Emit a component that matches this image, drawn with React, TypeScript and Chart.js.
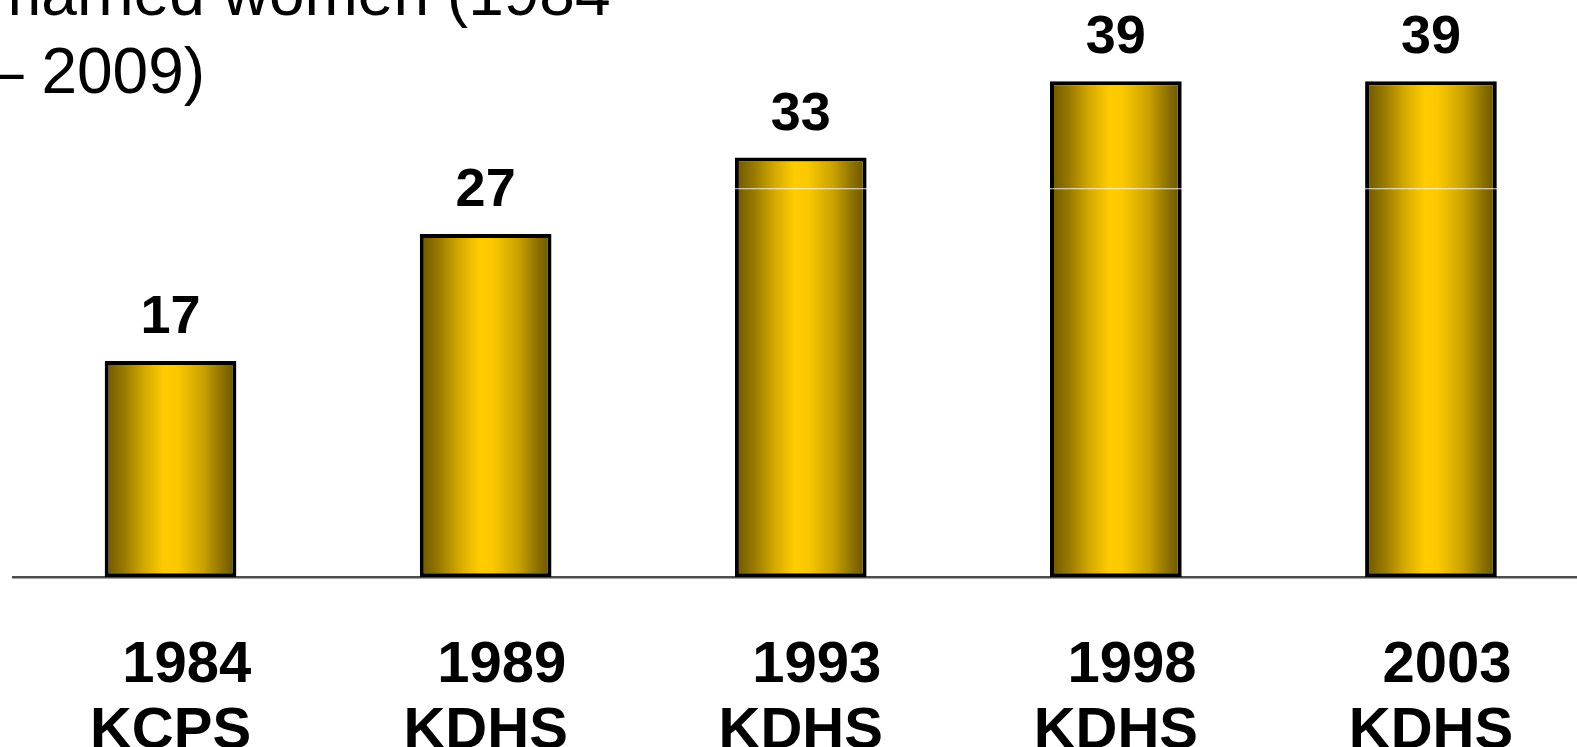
import React, { useEffect, useRef } from "react";
import { Chart, registerables } from "chart.js";

Chart.register(...registerables);

const yearLabels = ["1984", "1989", "1993", "1998", "2003"];
const surveyLabels = ["KCPS", "KDHS", "KDHS", "KDHS", "KDHS"];
const values = [17, 27, 33, 39, 39];
const titleLines = ["married women (1984", "– 2009)"];
const streakValue = 30.55;

const FONT = "'Liberation Sans', Arial, Helvetica, sans-serif";
const BAR_PCT = 0.418;

export default function App() {
  const canvasRef = useRef<HTMLCanvasElement | null>(null);

  useEffect(() => {
    document.body.style.margin = "0";
    const canvas = canvasRef.current;
    if (!canvas) return;

    const labels = yearLabels.map((y, i) => ["  " + y, surveyLabels[i]]);

    const valueLabelPlugin = {
      id: "valueLabels",
      afterDatasetsDraw(chart: any) {
        const ctx = chart.ctx;
        const meta = chart.getDatasetMeta(0);
        ctx.save();
        const yS = chart.scales.y.getPixelForValue(streakValue);
        ctx.strokeStyle = "rgba(255,255,255,0.85)";
        ctx.lineWidth = 1.2;
        ctx.beginPath();
        ctx.moveTo(chart.chartArea.left, yS);
        ctx.lineTo(chart.chartArea.right, yS);
        ctx.stroke();

        ctx.fillStyle = "#000";
        ctx.font = `bold 54px ${FONT}`;
        ctx.textAlign = "center";
        ctx.textBaseline = "alphabetic";
        meta.data.forEach((el: any, i: number) => {
          ctx.fillText(String(values[i]), el.x, el.y - 28);
        });
        ctx.restore();
      },
    };

    const chart = new Chart(canvas, {
      type: "bar",
      data: {
        labels,
        datasets: [
          {
            data: values,
            backgroundColor: (c: any) => {
              const ch = c.chart;
              const xs = ch.scales?.x;
              if (!ch.chartArea || !xs) return "#ffcc00";
              const cx = xs.getPixelForValue(c.dataIndex);
              const w = (xs.width / values.length) * BAR_PCT;
              const g = ch.ctx.createLinearGradient(cx - w / 2, 0, cx + w / 2, 0);
              g.addColorStop(0, "#6b5500");
              g.addColorStop(0.15, "#9a7b00");
              g.addColorStop(0.3, "#d4a900");
              g.addColorStop(0.45, "#ffcc00");
              g.addColorStop(0.55, "#fcc900");
              g.addColorStop(0.75, "#c9a100");
              g.addColorStop(0.9, "#8a6f00");
              g.addColorStop(1, "#665200");
              return g;
            },
            borderColor: "#000",
            borderWidth: 4,
            borderSkipped: false,
            barPercentage: BAR_PCT,
            categoryPercentage: 1,
          },
        ],
      },
      options: {
        animation: false,
        responsive: false,
        devicePixelRatio: 1,
        layout: { padding: { left: 13, right: 11.5, top: 5, bottom: 3.8 } },
        plugins: {
          legend: { display: false },
          tooltip: { enabled: false },
          title: { display: false },
        },
        scales: {
          x: {
            grid: { display: false, drawTicks: false },
            border: { display: true, color: "#4d4d4d", width: 2.5 },
            ticks: {
              color: "#000",
              padding: 56,
              maxRotation: 0,
              autoSkip: false,
              font: { family: FONT, size: 58, weight: "bold", lineHeight: "66px" },
            },
          },
          y: {
            display: false,
            min: 0,
            max: 45,
          },
        },
      },
      plugins: [valueLabelPlugin],
    });

    return () => chart.destroy();
  }, []);

  return (
    <div
      style={{
        position: "fixed",
        left: 0,
        top: 0,
        width: 1577,
        height: 747,
        overflow: "hidden",
        background: "#fff",
      }}
    >
      <canvas
        ref={canvasRef}
        width={1600}
        height={825}
        style={{ width: 1600, height: 825, display: "block" }}
      />
      <div
        style={{
          position: "absolute",
          left: -12,
          top: -46,
          fontFamily: FONT,
          fontSize: 64,
          lineHeight: "78px",
          color: "#000",
          whiteSpace: "nowrap",
        }}
      >
        {titleLines[0]}
        <br />
        {titleLines[1]}
      </div>
    </div>
  );
}
